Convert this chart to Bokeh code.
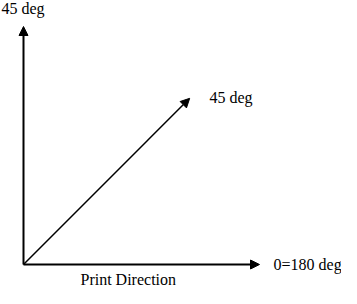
import math
from bokeh.plotting import figure
from bokeh.models import Arrow, NormalHead, Label
from bokeh.embed import file_html
from bokeh.resources import INLINE

# Vectors of the diagram (angle in degrees, length in px units)
vec_names = ["vertical", "diagonal", "horizontal"]
vec_angles = [90, 45, 0]
vec_lengths = [238, 235, 236]

# Labels
label_texts = ["45 deg", "45 deg", "0=180 deg", "Print Direction"]

W, H = 341, 288
origin = (23, H - 264)
p = figure(width=W, height=H, x_range=(0, W), y_range=(0, H),
           output_backend="svg", toolbar_location=None, min_border=0)
p.axis.visible = False
p.grid.visible = False
p.outline_line_color = None
p.background_fill_color = "white"

widths = [2, 1.5, 2]
for ang, ln, lw in zip(vec_angles, vec_lengths, widths):
    xe = origin[0] + ln * math.cos(math.radians(ang))
    ye = origin[1] + ln * math.sin(math.radians(ang))
    p.add_layout(Arrow(x_start=origin[0], y_start=origin[1], x_end=xe, y_end=ye,
                       line_width=lw, line_color="black",
                       end=NormalHead(size=9, fill_color="black", line_color="black",
                                      line_width=1)))

lx = [1, 209, 273, 80]
ly = [H - 8, H - 97, H - 264, H - 279]
for t, x, y in zip(label_texts, lx, ly):
    p.add_layout(Label(x=x, y=y, text=t, text_font="Liberation Serif",
                       text_font_size="16px", text_color="black",
                       text_baseline="alphabetic"))

open("out.html", "w").write(file_html(p, INLINE))
